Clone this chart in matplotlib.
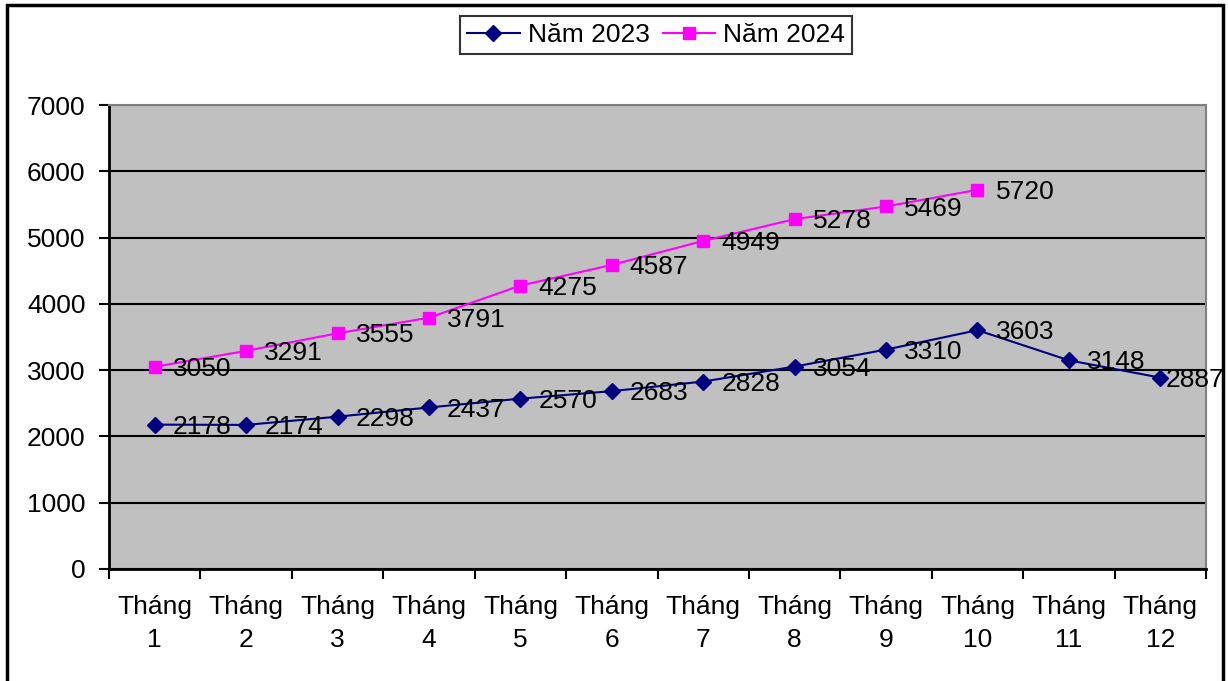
import matplotlib.pyplot as plt
from matplotlib.patches import Rectangle

plt.rcParams['font.family'] = ['Liberation Sans', 'DejaVu Sans']

months = ["Tháng\n1", "Tháng\n2", "Tháng\n3", "Tháng\n4", "Tháng\n5", "Tháng\n6",
          "Tháng\n7", "Tháng\n8", "Tháng\n9", "Tháng\n10", "Tháng\n11", "Tháng\n12"]
y2023 = [2178, 2174, 2298, 2437, 2570, 2683, 2828, 3054, 3310, 3603, 3148, 2887]
y2024 = [3050, 3291, 3555, 3791, 4275, 4587, 4949, 5278, 5469, 5720]

DPI = 100
FS = 19
fig = plt.figure(figsize=(12.28, 6.81), dpi=DPI)
ax = fig.add_axes([109/1228, 1 - 569/681, (1206 - 109)/1228, (569 - 105)/681])
ax.set_facecolor('#C0C0C0')

x23 = [i + 0.5 for i in range(len(y2023))]
x24 = [i + 0.5 for i in range(len(y2024))]

ax.plot(x23, y2023, color='#000080', lw=1.5, marker='D', ms=8.5, label='Năm 2023', zorder=3)
ax.plot(x24, y2024, color='#FF00FF', lw=1.5, marker='s', ms=8.5, label='Năm 2024', zorder=3)

# last 2023 label is pulled left so it stays inside the frame
for i, (x, v) in enumerate(zip(x23, y2023)):
    dx = 4 if i == len(y2023) - 1 else 13
    ax.annotate(str(v), (x, v), xytext=(dx, -1.5), textcoords='offset points',
                ha='left', va='center', fontsize=FS, zorder=4)
for x, v in zip(x24, y2024):
    ax.annotate(str(v), (x, v), xytext=(13, -1.5), textcoords='offset points',
                ha='left', va='center', fontsize=FS, zorder=4)

ax.set_xlim(0, 12)
ax.set_ylim(0, 7000)
ax.set_yticks(range(0, 7001, 1000))
ax.yaxis.grid(True, color='black', lw=1.5)
ax.set_axisbelow(True)

ax.set_xticks(range(0, 13))
ax.set_xticklabels([])
ax.set_xticks(x23, minor=True)
ax.set_xticklabels(months, minor=True, fontsize=FS, linespacing=1.45)
ax.tick_params(axis='x', which='major', length=7, width=1.5, direction='out')
ax.tick_params(axis='x', which='minor', length=0, pad=19)
ax.tick_params(axis='y', length=7, width=1.5, labelsize=FS, pad=10)

for s in ['left', 'bottom']:
    ax.spines[s].set_linewidth(2)
    ax.spines[s].set_color('black')
for s in ['top', 'right']:
    ax.spines[s].set_linewidth(1.5)
    ax.spines[s].set_color('#808080')

leg = fig.legend(loc='center', bbox_to_anchor=(656/1228, 1 - 35/681), ncol=2,
                 fontsize=FS, frameon=True, fancybox=False, edgecolor='black',
                 borderpad=0.25, handlelength=2.0, handletextpad=0.3, columnspacing=0.5)
leg.get_frame().set_linewidth(1.5)

fig.patches.append(Rectangle((7/1228, -0.01), (1223 - 7)/1228, 1.01 - 5/681,
                             transform=fig.transFigure, fill=False,
                             edgecolor='black', lw=2.5))

plt.savefig('out.png', dpi=DPI)
